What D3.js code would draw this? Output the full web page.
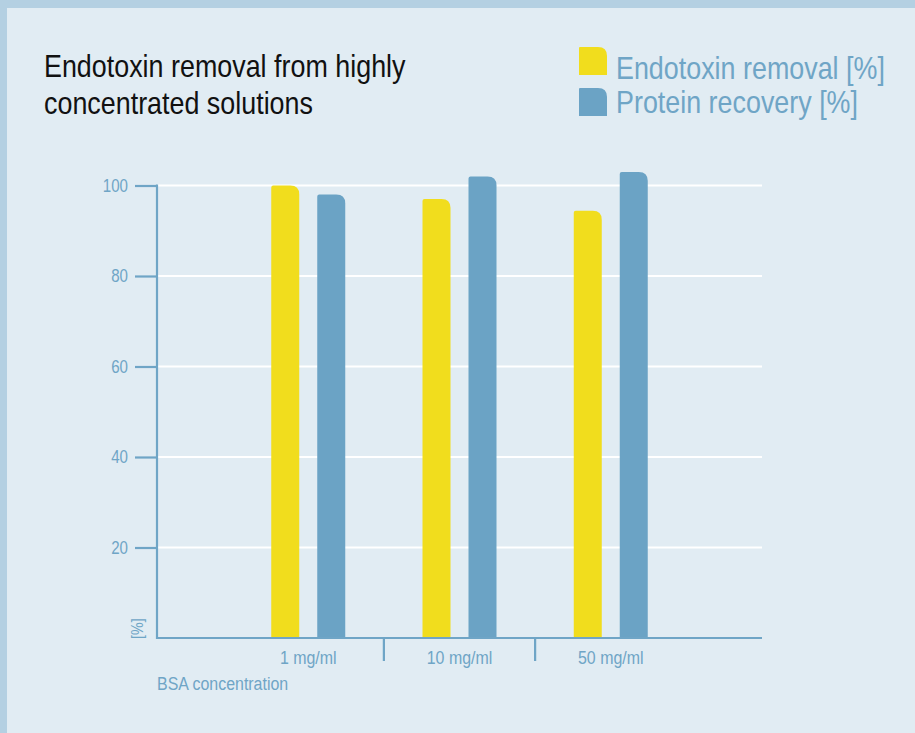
<!DOCTYPE html>
<html>
<head>
<meta charset="utf-8">
<script src="https://cdn.jsdelivr.net/npm/d3@7"></script>
<style>
  html, body { margin: 0; padding: 0; background: #e1ecf3; }
  svg { display: block; }
  text { font-family: "Liberation Sans", Arial, sans-serif; }
</style>
</head>
<body>
<svg id="chart" width="915" height="733"></svg>
<script>
// Data
const categories = ["1 mg/ml", "10 mg/ml", "50 mg/ml"];
const seriesNames = ["Endotoxin removal [%]", "Protein recovery [%]"];
const endotoxinRemoval = [100, 97, 94.4];
const proteinRecovery = [98, 102, 103];
const yTicks = [20, 40, 60, 80, 100];

const colors = { endo: "#f1dd1d", prot: "#6ba3c5", axis: "#6fa5c6", bg: "#e1ecf3", frame: "#b4d0e2" };
const series = [
  { name: seriesNames[0], values: endotoxinRemoval, color: colors.endo },
  { name: seriesNames[1], values: proteinRecovery, color: colors.prot }
];

const svg = d3.select("#chart");
const W = 915, H = 733;

// Narrow the regular sans face into a condensed look (horizontal scale about the anchor point)
const CONDENSE = 0.84;
function condense(sel) {
  sel.each(function () {
    const t = d3.select(this);
    const tx = +t.attr("x") || 0, ty = +t.attr("y") || 0;
    const base = t.attr("transform") || "";
    t.attr("x", 0).attr("y", 0)
      .attr("transform", `${base} translate(${tx},${ty}) scale(${CONDENSE},1)`);
  });
  return sel;
}

// Background and frame
svg.append("rect").attr("width", W).attr("height", H).attr("fill", colors.frame);
svg.append("rect").attr("x", 7).attr("y", 8).attr("width", W - 7).attr("height", H - 8).attr("fill", colors.bg);

// Plot geometry
const x0 = 157, x1 = 762, yBase = 638, yTop = 185.5;
const step = (x1 - x0) / 4;
const x = d3.scaleBand().domain(categories).range([x0 + step / 2, x1 - step / 2]).padding(0);
const xs = d3.scaleBand().domain(seriesNames).range([-37, 37]).paddingInner(0.3913);
const y = d3.scaleLinear().domain([0, 100]).range([yBase, yTop]);

// Gridlines
svg.append("g").selectAll("line").data(yTicks).join("line")
  .attr("x1", x0).attr("x2", x1)
  .attr("y1", d => y(d)).attr("y2", d => y(d))
  .attr("stroke", "#ffffff").attr("stroke-width", 2);

// Bar shape: square bottom, rounded top-right corner
function barPath(bx, by, bw, bh, rr, rl) {
  const p = d3.path();
  p.moveTo(bx, by + bh);
  p.lineTo(bx, by + rl);
  p.quadraticCurveTo(bx, by, bx + rl, by);
  p.lineTo(bx + bw - rr, by);
  p.quadraticCurveTo(bx + bw, by, bx + bw, by + rr);
  p.lineTo(bx + bw, by + bh);
  p.closePath();
  return p.toString();
}

// Bars
const gBars = svg.append("g");
series.forEach(s => {
  gBars.append("g").selectAll("path").data(categories).join("path")
    .attr("d", (c, i) => {
      const cx = x(c) + x.bandwidth() / 2;
      const bx = cx + xs(s.name);
      const top = y(s.values[i]);
      return barPath(bx, top, xs.bandwidth(), yBase - top, 9, 2);
    })
    .attr("fill", s.color);
});

// Y axis
const yAxis = d3.axisLeft(y).tickValues(yTicks).tickSize(22).tickPadding(7);
const gy = svg.append("g").attr("transform", `translate(${x0},0)`).call(yAxis);
gy.select(".domain").remove();
gy.selectAll(".tick line").attr("stroke", colors.axis).attr("stroke-width", 2.2);
gy.selectAll(".tick text").attr("fill", colors.axis).attr("font-size", 18)
  .attr("font-family", null).call(condense);
svg.append("line").attr("x1", x0).attr("x2", x0).attr("y1", y(100) - 1).attr("y2", yBase + 1)
  .attr("stroke", colors.axis).attr("stroke-width", 2.2);

// X axis line and group separators
svg.append("line").attr("x1", x0 - 1).attr("x2", x1).attr("y1", yBase).attr("y2", yBase)
  .attr("stroke", colors.axis).attr("stroke-width", 2.2);
svg.append("g").selectAll("line").data(categories.slice(1)).join("line")
  .attr("x1", d => x(d)).attr("x2", d => x(d))
  .attr("y1", yBase).attr("y2", yBase + 23)
  .attr("stroke", colors.axis).attr("stroke-width", 2.2);

// Category labels
svg.append("g").selectAll("text").data(categories).join("text")
  .attr("x", d => x(d) + x.bandwidth() / 2)
  .attr("y", 664)
  .attr("text-anchor", "middle")
  .attr("fill", colors.axis).attr("font-size", 19)
  .text(d => d)
  .call(condense);

// Axis titles
svg.append("text").attr("x", x0).attr("y", 690)
  .attr("fill", colors.axis).attr("font-size", 19).text("BSA concentration").call(condense);
svg.append("text").attr("transform", "translate(143,639) rotate(-90)")
  .attr("fill", colors.axis).attr("font-size", 17).text("[%]").call(condense);

// Title
const title = svg.append("g").attr("fill", "#111111").attr("font-size", 32);
title.append("text").attr("x", 44).attr("y", 77).text("Endotoxin removal from highly").call(condense);
title.append("text").attr("x", 44).attr("y", 114).text("concentrated solutions").call(condense);

// Legend
const lg = svg.append("g");
series.forEach((s, i) => {
  const ly = 47 + i * 41;
  lg.append("path").attr("d", barPath(579, ly, 28, 28, 9, 1)).attr("fill", s.color);
  lg.append("text").attr("x", 616).attr("y", 79 + i * 34)
    .attr("fill", colors.axis).attr("font-size", 32).text(s.name).call(condense);
});
</script>
</body>
</html>
